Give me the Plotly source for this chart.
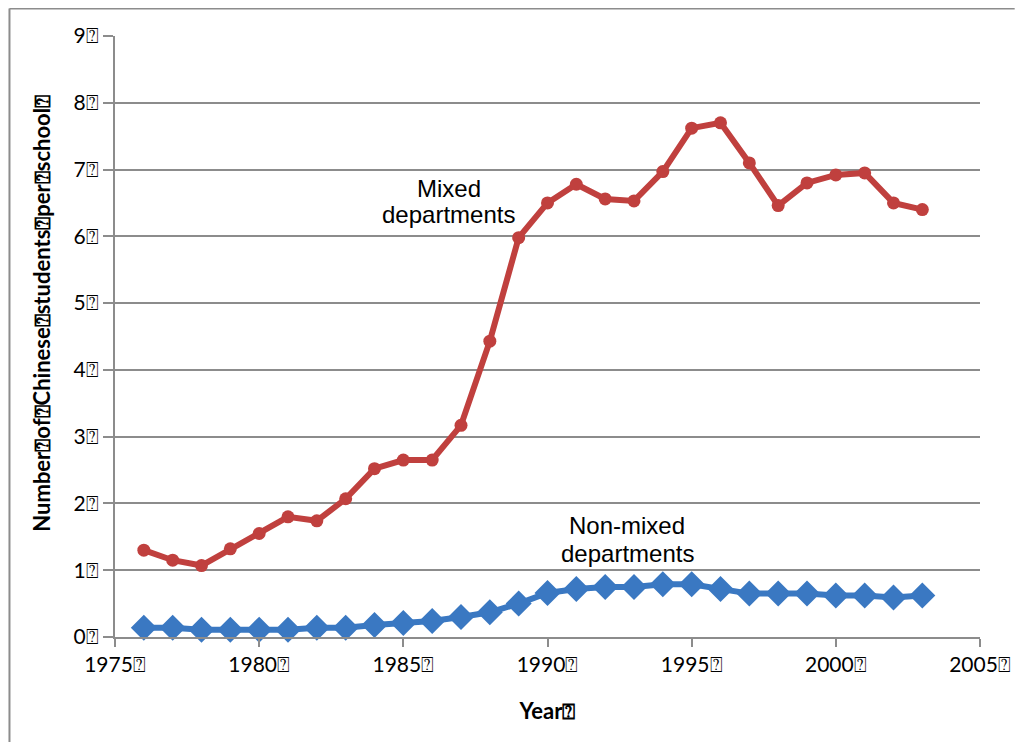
import plotly.graph_objects as go

BOX = "\u2370"

years = list(range(1976, 2004))
mixed = [1.30, 1.15, 1.07, 1.32, 1.55, 1.80, 1.74, 2.07, 2.52, 2.65, 2.65, 3.17,
         4.43, 5.98, 6.50, 6.78, 6.56, 6.53, 6.97, 7.62, 7.70, 7.10, 6.46, 6.80,
         6.92, 6.95, 6.50, 6.40]
non_mixed = [0.14, 0.14, 0.11, 0.11, 0.11, 0.11, 0.14, 0.14, 0.18, 0.21, 0.24, 0.30,
             0.37, 0.50, 0.66, 0.72, 0.75, 0.75, 0.79, 0.79, 0.72, 0.65, 0.65, 0.65,
             0.62, 0.62, 0.59, 0.62]

x_ticks = [1975, 1980, 1985, 1990, 1995, 2000, 2005]
y_ticks = list(range(0, 10))
x_tick_labels = [f"{v}{BOX}" for v in x_ticks]
y_tick_labels = [f"{v}{BOX}" for v in y_ticks]

y_title = f"Number{BOX}of{BOX}Chinese{BOX}students{BOX}per{BOX}school{BOX}"
x_title = f"Year{BOX}"

RED = "#C0403E"
BLUE = "#3A78C2"
GRID = "#8C8C8C"

W, H = 1015, 734
L, R, T, B = 107, 35, 28, 105
pw, ph = W - L - R, H - T - B

fig = go.Figure()
fig.add_trace(go.Scatter(
    x=years, y=mixed, mode="lines+markers",
    line=dict(color=RED, width=6),
    marker=dict(symbol="circle", size=13, color=RED),
    showlegend=False, cliponaxis=False))
fig.add_trace(go.Scatter(
    x=years, y=non_mixed, mode="lines+markers",
    line=dict(color=BLUE, width=6),
    marker=dict(symbol="diamond", size=20, color=BLUE),
    showlegend=False, cliponaxis=False))

ann_font = dict(family="Liberation Sans, Arial", size=24, color="black")
label_lines = [
    ("Mixed", 1986.58, 6.72),
    ("departments", 1986.58, 6.33),
    ("Non-mixed", 1992.77, 1.67),
    ("departments", 1992.77, 1.25),
]
for txt, ax, ay in label_lines:
    fig.add_annotation(x=ax, y=ay, text=txt, showarrow=False, font=ann_font)

# y-axis title placed as rotated text
fig.add_annotation(xref="paper", yref="paper", x=(40 - 8 - L) / pw,
                   y=1 - (313 - 8 - T) / ph, text=y_title, textangle=-90,
                   xanchor="center", yanchor="middle", showarrow=False,
                   font=dict(family="Lato, Carlito, sans-serif", size=22,
                             color="black", weight="bold"))

# outer frame (partial, as in the reference)
fx = (0.5 - L) / pw
fy = 1 + (T - 0.5) / ph
fig.add_shape(type="line", xref="paper", yref="paper",
              x0=fx, x1=fx, y0=-B / ph, y1=fy,
              line=dict(color=GRID, width=2))
fig.add_shape(type="line", xref="paper", yref="paper",
              x0=fx, x1=1 + R / pw, y0=fy, y1=fy,
              line=dict(color=GRID, width=2))

tick_font = dict(family="Lato, Carlito, sans-serif", size=21, color="black")
title_font = dict(family="Lato, Carlito, sans-serif", size=22, color="black", weight="bold")

fig.update_layout(
    width=W, height=H, autosize=False,
    margin=dict(l=L, r=R, t=T, b=B),
    paper_bgcolor="white", plot_bgcolor="white",
    xaxis=dict(
        range=[1975, 2005], tickmode="array", tickvals=x_ticks, ticktext=x_tick_labels,
        showgrid=False, zeroline=False, showline=True, linecolor=GRID, linewidth=2,
        ticks="outside", ticklen=8, tickwidth=2, tickcolor=GRID,
        tickfont=tick_font,
        title=dict(text=x_title, font=title_font, standoff=28),
    ),
    yaxis=dict(
        range=[0, 9], tickmode="array", tickvals=y_ticks, ticktext=y_tick_labels,
        showgrid=True, gridcolor=GRID, gridwidth=2, zeroline=False,
        showline=True, linecolor=GRID, linewidth=2,
        ticks="outside", ticklen=10, tickwidth=2, tickcolor=GRID,
        tickfont=tick_font,
    ),
)

fig.write_html("out.html")
